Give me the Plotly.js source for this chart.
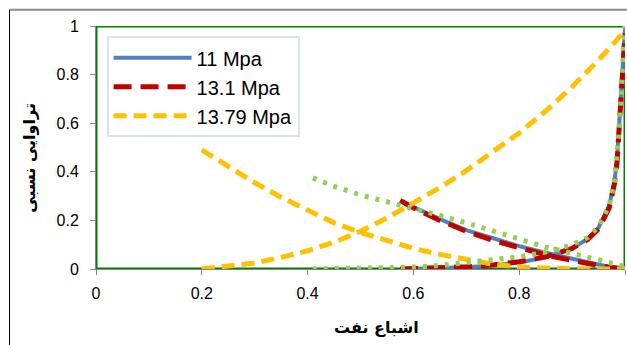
<!DOCTYPE html>
<html>
<head>
<meta charset="utf-8">
<script src="https://cdn.plot.ly/plotly-3.0.1.min.js"></script>
<style>html,body{margin:0;padding:0;background:#fff;}#chart{width:627px;height:345px;}</style>
</head>
<body>
<div id="chart"></div>
<script>
// ---- data ----
const seriesNames = ["11 Mpa", "13.1 Mpa", "13.79 Mpa"];
const xTicks = [0, 0.2, 0.4, 0.6, 0.8, 1];
const xTickLabels = ["0", "0.2", "0.4", "0.6", "0.8", "1"];
const yTicks = [0, 0.2, 0.4, 0.6, 0.8, 1];
const yTickLabels = ["0", "0.2", "0.4", "0.6", "0.8", "1"];
const xTitle = "اشباع نفت";
const yTitle = "تراوایی نسبی";

// 11 Mpa
const s11DecX = [0.575, 0.6, 0.65, 0.7, 0.75, 0.8, 0.85, 0.9, 0.95, 0.975];
const s11DecY = [0.28, 0.255, 0.205, 0.16, 0.125, 0.094, 0.067, 0.042, 0.018, 0.006];
const s11IncX = [0.575, 0.6, 0.65, 0.7, 0.75, 0.8, 0.85, 0.9, 0.93, 0.95, 0.97, 0.98, 0.985, 0.99, 0.995, 1.0];
const s11IncY = [0, 0.001, 0.003, 0.007, 0.014, 0.027, 0.048, 0.085, 0.125, 0.17, 0.26, 0.36, 0.45, 0.62, 0.8, 0.99];

// 13.1 Mpa
const s131DecX = [0.575, 0.6, 0.65, 0.7, 0.75, 0.8, 0.85, 0.9, 0.95, 1.0];
const s131DecY = [0.282, 0.252, 0.2, 0.155, 0.118, 0.086, 0.058, 0.035, 0.014, 0.0];
const s131IncX = [0.575, 0.6, 0.65, 0.7, 0.75, 0.8, 0.85, 0.9, 0.93, 0.95, 0.97, 0.98, 0.985, 0.99, 0.995, 1.0];
const s131IncY = [0, 0.001, 0.004, 0.009, 0.017, 0.03, 0.05, 0.085, 0.122, 0.165, 0.25, 0.35, 0.44, 0.6, 0.78, 0.97];

// 13.79 Mpa
const s1379DecX = [0.2, 0.25, 0.3, 0.35, 0.4, 0.45, 0.5, 0.55, 0.6, 0.65, 0.7, 0.75, 0.8, 0.85, 0.9, 0.95, 1.0];
const s1379DecY = [0.49, 0.42, 0.355, 0.295, 0.24, 0.19, 0.15, 0.115, 0.085, 0.06, 0.038, 0.02, 0.008, 0.003, 0.001, 0, 0];
const s1379IncX = [0.2, 0.25, 0.3, 0.35, 0.4, 0.45, 0.5, 0.55, 0.6, 0.65, 0.7, 0.75, 0.8, 0.85, 0.9, 0.95, 1.0];
const s1379IncY = [0, 0.01, 0.025, 0.048, 0.075, 0.11, 0.155, 0.21, 0.27, 0.335, 0.405, 0.48, 0.56, 0.65, 0.75, 0.86, 0.98];

// unlabeled green dotted series
const gDecX = [0.41, 0.45, 0.5, 0.55, 0.6, 0.65, 0.7, 0.75, 0.8, 0.85, 0.9, 0.95, 1.0];
const gDecY = [0.375, 0.34, 0.305, 0.278, 0.25, 0.22, 0.19, 0.155, 0.12, 0.09, 0.065, 0.04, 0.01];
const gIncX = [0.41, 0.5, 0.6, 0.65, 0.7, 0.75, 0.8, 0.85, 0.9, 0.93, 0.95, 0.97, 0.98, 0.99, 0.995, 1.0];
const gIncY = [0, 0.002, 0.008, 0.015, 0.025, 0.035, 0.05, 0.07, 0.1, 0.13, 0.175, 0.26, 0.36, 0.6, 0.8, 1.0];

// unlabeled dark green series (boundary lines)
const frameX = [0, 0, 1, 1, 0];
const frameY = [0, 1, 1, 0, 0];

// ---- styles ----
const blue = "#4f81bd", red = "#c00000", yellow = "#ffc000", lgreen = "#92d050", dgreen = "#008000";

function tr(x, y, name, color, width, dash, showlegend) {
  return {x: x, y: y, type: "scatter", mode: "lines", name: name,
    showlegend: showlegend, cliponaxis: false,
    line: {color: color, width: width, dash: dash}, hoverinfo: "skip"};
}

const traces = [
  tr(frameX, frameY, "frame", dgreen, 3, "solid", false),
  tr(s11DecX, s11DecY, seriesNames[0], blue, 4, "solid", true),
  tr(s11IncX, s11IncY, seriesNames[0], blue, 4, "solid", false),
  tr(s131DecX, s131DecY, seriesNames[1], red, 5, "18px,9px", true),
  tr(s131IncX, s131IncY, seriesNames[1], red, 5, "18px,9px", false),
  tr(s1379DecX, s1379DecY, seriesNames[2], yellow, 5, "13px,7px", true),
  tr(s1379IncX, s1379IncY, seriesNames[2], yellow, 5, "13px,7px", false),
  tr(gDecX, gDecY, "g1", lgreen, 5, "4px,7px", false),
  tr(gIncX, gIncY, "g2", lgreen, 5, "4px,7px", false)
];

const tickFont = {family: "Liberation Sans, Arial, sans-serif", size: 16, color: "#000"};

const layout = {
  width: 627, height: 345,
  margin: {l: 96, r: 2, t: 26, b: 76, pad: 0},
  paper_bgcolor: "#fff", plot_bgcolor: "#fff",
  showlegend: true,
  legend: {
    x: 0.02, y: 0.958, xanchor: "left", yanchor: "top",
    bgcolor: "#fff", bordercolor: "#d9e2ef", borderwidth: 2,
    font: {family: "Liberation Sans, Arial, sans-serif", size: 20, color: "#000"},
    traceorder: "normal", itemwidth: 78
  },
  xaxis: {
    range: [0, 1], tickvals: xTicks, ticktext: xTickLabels,
    showgrid: false, zeroline: false, showline: true, linecolor: "#868686", linewidth: 1,
    ticks: "outside", ticklen: 5, tickcolor: "#868686", tickfont: tickFont,
    ticklabelstandoff: 5
  },
  yaxis: {
    range: [0, 1], tickvals: yTicks, ticktext: yTickLabels,
    showgrid: false, zeroline: false, showline: true, linecolor: "#868686", linewidth: 1,
    ticks: "outside", ticklen: 5, tickcolor: "#868686", tickfont: tickFont,
    ticklabelstandoff: 8
  },
  annotations: [
    {text: xTitle, xref: "paper", yref: "paper", x: 0.531, y: -0.2416,
     xanchor: "center", yanchor: "middle", showarrow: false,
     font: {family: "DejaVu Sans, sans-serif", size: 16, color: "#000", weight: "bold"}},
    {text: yTitle, xref: "paper", yref: "paper", x: -0.1248, y: 0.458,
     xanchor: "center", yanchor: "middle", showarrow: false, textangle: -90,
     font: {family: "DejaVu Sans, sans-serif", size: 16, color: "#000", weight: "bold"}}
  ],
  shapes: [
    {type: "line", xref: "paper", yref: "paper", x0: -0.1635, x1: 1.01, y0: 1.067, y1: 1.067,
     line: {color: "#8c8c8c", width: 2}},
    {type: "line", xref: "paper", yref: "paper", x0: -0.1635, x1: -0.1635, y0: 1.067, y1: -0.32,
     line: {color: "#000", width: 1}}
  ]
};

Plotly.newPlot("chart", traces, layout, {displayModeBar: false, staticPlot: true});
</script>
</body>
</html>
